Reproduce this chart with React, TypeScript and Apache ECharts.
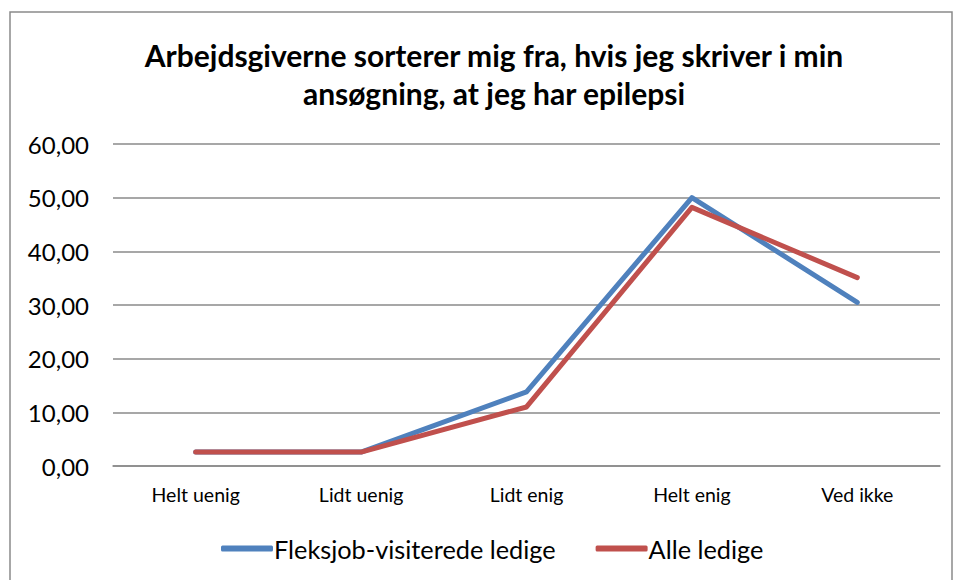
import React, { useEffect, useRef } from "react";
import * as echarts from "echarts";

const categories = ["Helt uenig", "Lidt uenig", "Lidt enig", "Helt enig", "Ved ikke"];
const fleksjobValues = [2.6, 2.6, 13.8, 50.0, 30.5];
const alleValues = [2.6, 2.6, 11.0, 48.2, 35.1];
const seriesNames = ["Fleksjob-visiterede ledige", "Alle ledige"];
const titleText = "Arbejdsgiverne sorterer mig fra, hvis jeg skriver i min\nansøgning, at jeg har epilepsi";

export default function App() {
  const ref = useRef<HTMLDivElement>(null);
  useEffect(() => {
    if (!ref.current) return;
    const chart = echarts.init(ref.current, null, { renderer: "svg" });
    const font = "Lato, 'Open Sans', sans-serif";
    chart.setOption({
      animation: false,
      backgroundColor: "#ffffff",
      textStyle: { fontFamily: font },
      graphic: [
        {
          type: "rect",
          shape: { x: 10, y: 12, width: 942, height: 600 },
          style: { fill: "none", stroke: "#8a8a8a", lineWidth: 1.5 },
          silent: true,
        },
      ],
      title: {
        text: titleText,
        left: 489,
        textAlign: "center",
        top: 31,
        textStyle: {
          fontFamily: font,
          fontSize: 30,
          fontWeight: "bold",
          color: "#000",
          lineHeight: 38,
        },
      },
      legend: {
        bottom: 14,
        left: 216,
        icon: "roundRect",
        itemWidth: 52,
        itemHeight: 6,
        itemGap: 40,
        textStyle: { fontFamily: font, fontSize: 25.3, color: "#000", padding: [0, 0, 0, -4] },
        data: seriesNames,
      },
      grid: { left: 113, right: 16, top: 144, bottom: 114, containLabel: false },
      xAxis: {
        type: "category",
        data: categories,
        boundaryGap: true,
        axisLine: { show: true, lineStyle: { color: "#8a8a8a", width: 1.5 } },
        axisTick: { show: false },
        axisLabel: { fontFamily: font, fontSize: 19.5, color: "#000", margin: 18 },
      },
      yAxis: {
        type: "value",
        min: 0,
        max: 60,
        interval: 10,
        axisLine: { show: false },
        axisTick: { show: false },
        splitLine: { lineStyle: { color: "#8a8a8a", width: 1.5 } },
        axisLabel: {
          fontFamily: font,
          fontSize: 24,
          color: "#000",
          margin: 24,
          formatter: (v: number) => v.toFixed(2).replace(".", ","),
        },
      },
      series: [
        {
          name: seriesNames[0],
          type: "line",
          data: fleksjobValues,
          symbol: "none",
          itemStyle: { color: "#4F81BD" },
          lineStyle: { color: "#4F81BD", width: 5, cap: "round", join: "round" },
        },
        {
          name: seriesNames[1],
          type: "line",
          data: alleValues,
          symbol: "none",
          itemStyle: { color: "#C0504D" },
          lineStyle: { color: "#C0504D", width: 5, cap: "round", join: "round" },
        },
      ],
    });
    return () => chart.dispose();
  }, []);
  return (
    <div
      ref={ref}
      style={{ position: "absolute", left: 0, top: 0, width: 956, height: 580 }}
    />
  );
}
